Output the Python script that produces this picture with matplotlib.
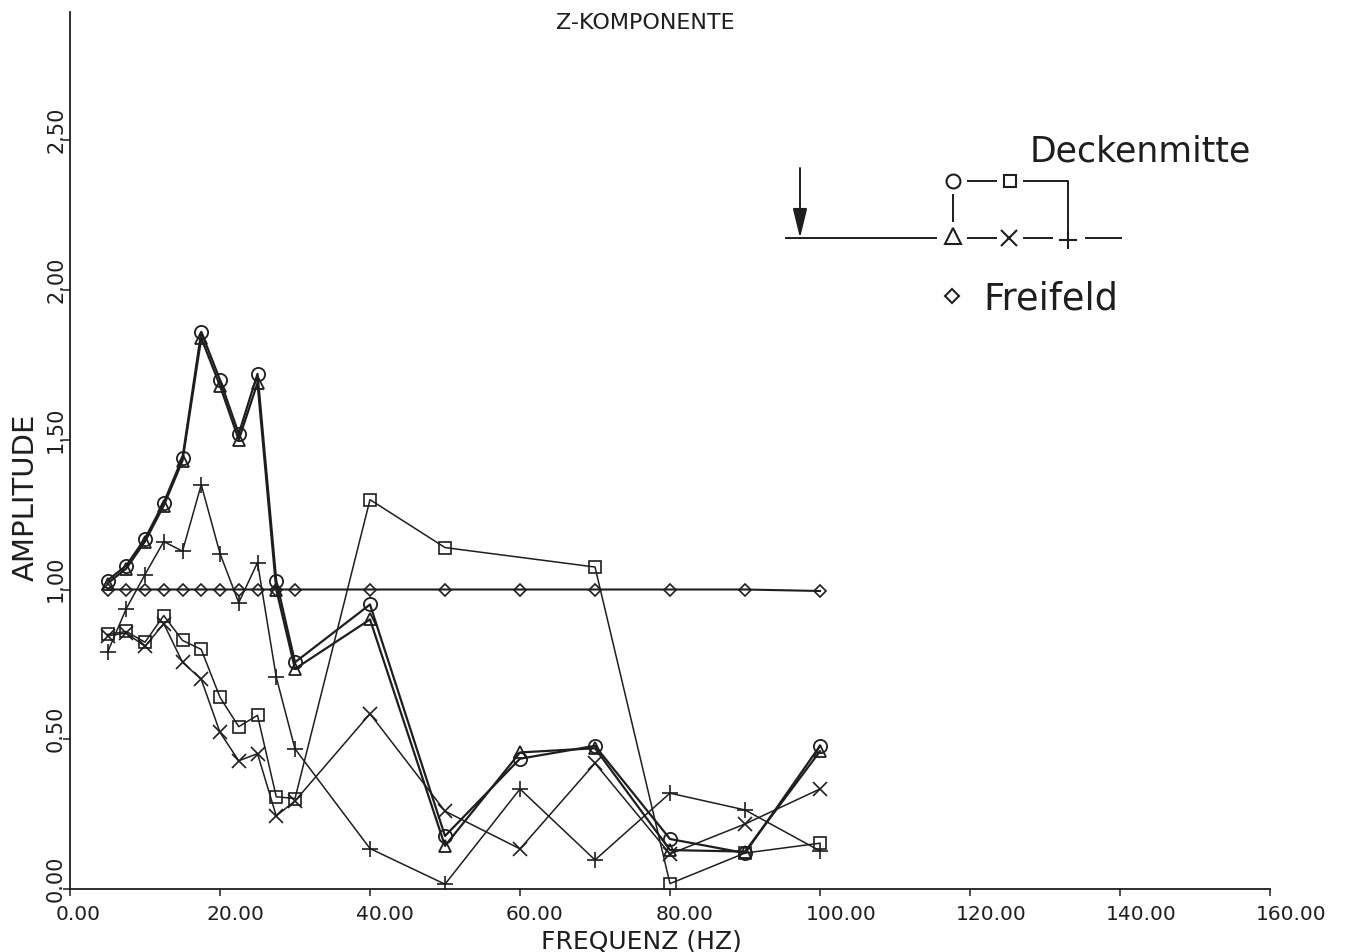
import matplotlib
matplotlib.use("Agg")
import matplotlib.pyplot as plt
from matplotlib.transforms import ScaledTranslation

# ---------------- data ----------------
freq = [5, 7.5, 10, 12.5, 15, 17.5, 20, 22.5, 25, 27.5, 30, 40, 50, 60, 70, 80, 90, 100]
freq_square = [5, 7.5, 10, 12.5, 15, 17.5, 20, 22.5, 25, 27.5, 30, 40, 50, 70, 80, 90, 100]

amp_circle = [1.03, 1.08, 1.17, 1.29, 1.44, 1.86, 1.70, 1.52, 1.72, 1.03, 0.757, 0.95,
              0.177, 0.435, 0.478, 0.167, 0.12, 0.478]
amp_triangle = [1.02, 1.07, 1.16, 1.28, 1.43, 1.84, 1.68, 1.50, 1.69, 1.00, 0.735, 0.90,
                0.144, 0.456, 0.47, 0.13, 0.125, 0.46]
amp_square = [0.85, 0.86, 0.824, 0.913, 0.83, 0.80, 0.64, 0.542, 0.58, 0.308, 0.302, 1.30,
              1.14, 1.075, 0.018, 0.12, 0.153]
amp_cross = [0.845, 0.855, 0.81, 0.886, 0.757, 0.70, 0.523, 0.428, 0.452, 0.244, 0.294, 0.585,
             0.26, 0.134, 0.42, 0.117, 0.217, 0.334]
amp_plus = [0.79, 0.936, 1.05, 1.16, 1.128, 1.35, 1.12, 0.956, 1.09, 0.707, 0.468, 0.135,
            0.016, 0.334, 0.097, 0.32, 0.264, 0.127]
amp_diamond = [1.0, 1.0, 1.0, 1.0, 1.0, 1.0, 1.0, 1.0, 1.0, 1.0, 1.0, 1.0,
               1.0, 1.0, 1.0, 1.0, 1.0, 0.995]

xticks = [0, 20, 40, 60, 80, 100, 120, 140, 160]
xtick_labels = ["0.00", "20.00", "40.00", "60.00", "80.00", "100.00", "120.00", "140.00", "160.00"]
yticks = [0.0, 0.5, 1.0, 1.5, 2.0, 2.5]
ytick_labels = ["0.00", "0.50", "1.00", "1.50", "2.00", "2.50"]

title = "Z-KOMPONENTE"
xlabel = "FREQUENZ (HZ)"
ylabel = "AMPLITUDE"
legend_top = "Deckenmitte"
legend_bottom = "Freifeld"

# ---------------- figure ----------------
W, H = 1349, 952
DPI = 100
INK = "#1e1e1e"
plt.rcParams['font.family'] = ['DejaVu Sans']

fig = plt.figure(figsize=(W / DPI, H / DPI), dpi=DPI)
fig.patch.set_facecolor("white")

x0, x1 = 70, 1270
y0, y1 = 889, 12
ax = fig.add_axes([x0 / W, (H - y0) / H, (x1 - x0) / W, (y0 - y1) / H])
ax.set_xlim(0, 160)
ax.set_ylim(0, (y0 - y1) / 299.5)
ax.set_facecolor("none")
for s in ["top", "right"]:
    ax.spines[s].set_visible(False)
for s in ["left", "bottom"]:
    ax.spines[s].set_color(INK)
    ax.spines[s].set_linewidth(1.3)
ax.set_xticks(xticks)
ax.set_yticks(yticks)
ax.set_xticklabels([])
ax.set_yticklabels([])
ax.tick_params(direction="out", length=5, width=1.1, color=INK)

px = lambda p: p / DPI
xtr = ax.get_xaxis_transform() + ScaledTranslation(px(-14), px(-16), fig.dpi_scale_trans)
for v, t in zip(xticks, xtick_labels):
    ax.text(v, 0, t, transform=xtr, ha="left", va="top", fontsize=14.5, color=INK)

ytr = ax.get_yaxis_transform() + ScaledTranslation(px(-8), px(-13), fig.dpi_scale_trans)
for v, t in zip(yticks, ytick_labels):
    ax.text(0, v, t, transform=ytr, rotation=90, rotation_mode="anchor",
            ha="left", va="baseline", fontsize=15, color=INK)

fig.text(641 / W, 1 - 948 / H, xlabel, ha="center", va="baseline", fontsize=18, color=INK)
fig.text(26 / W, 1 - 497 / H, ylabel, ha="center", va="center", rotation=90, fontsize=21, color=INK)
fig.text(645 / W, 1 - 23 / H, title, ha="center", va="center", fontsize=16, color=INK)

mk = dict(markerfacecolor="none", markeredgecolor=INK, color=INK)
ax.plot(freq, amp_diamond, marker="D", markersize=6, lw=1.5, mew=1.2, **mk)
ax.plot(freq, amp_plus, marker="+", markersize=11, lw=1.1, mew=1.2, **mk)
ax.plot(freq, amp_cross, marker="x", markersize=10, lw=1.1, mew=1.2, **mk)
ax.plot(freq_square, amp_square, marker="s", markersize=8.5, lw=1.1, mew=1.2, **mk)
ax.plot(freq, amp_triangle, marker="^", markersize=8.5, lw=1.6, mew=1.3, **mk)
ax.plot(freq, amp_circle, marker="o", markersize=9.5, lw=1.6, mew=1.3, **mk)

# ---------------- legend sketch (pixel coordinates) ----------------
ov = fig.add_axes([0, 0, 1, 1])
ov.set_xlim(0, W)
ov.set_ylim(H, 0)
ov.axis("off")
ov.patch.set_alpha(0)

lk = dict(color=INK, lw=1.4, solid_capstyle="butt")
ov.annotate("", xy=(800, 238), xytext=(800, 168),
            arrowprops=dict(arrowstyle="-|>,head_length=0.9,head_width=0.22",
                            color=INK, lw=1.4, mutation_scale=20, shrinkA=0, shrinkB=0))
ov.plot([785, 937], [238, 238], **lk)
ov.plot([967, 997], [238, 238], **lk)
ov.plot([1023, 1053], [238, 238], **lk)
ov.plot([1085, 1122], [238, 238], **lk)
ov.plot([967, 997], [181, 181], **lk)
ov.plot([1023, 1068, 1068], [181, 181, 238], **lk)
ov.plot([953, 953], [194, 222], **lk)

mk2 = dict(markerfacecolor="none", markeredgecolor=INK, linestyle="none", mew=1.5)
ov.plot([953], [181], marker="o", markersize=10, **mk2)
ov.plot([1010], [181], marker="s", markersize=9, **mk2)
ov.plot([953], [236], marker="^", markersize=11, **mk2)
ov.plot([1009], [238], marker="x", markersize=11, **mk2)
ov.plot([1068], [240], marker="+", markersize=13, **mk2)
ov.plot([952], [296], marker="D", markersize=7, **mk2)

ov.text(1030, 162, legend_top, ha="left", va="baseline", fontsize=25, color=INK)
ov.text(983, 310, legend_bottom, ha="left", va="baseline", fontsize=26.5, color=INK)

fig.savefig("out.png", dpi=DPI, facecolor="white")
